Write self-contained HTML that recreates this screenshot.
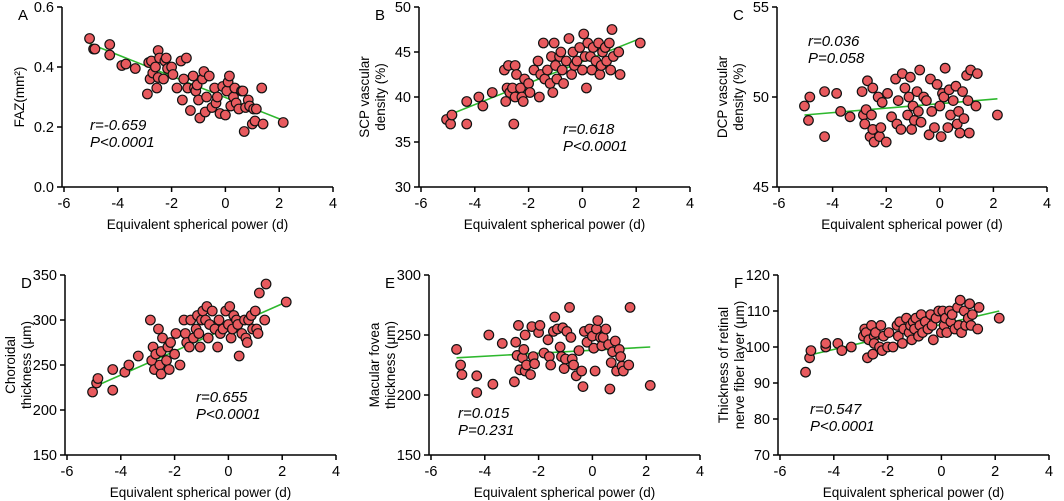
<!DOCTYPE html>
<html><head><meta charset="utf-8"><style>
body{margin:0;background:#fff;}
svg{display:block;font-family:"Liberation Sans",Arial,sans-serif;}
</style></head><body>
<svg id="c" width="1064" height="501"></svg>
<script>
const xs=[-5.05,-4.9,-4.85,-4.3,-4.3,-3.85,-3.7,-3.35,-2.9,-2.85,-2.8,-2.75,-2.7,-2.6,-2.55,-2.5,-2.5,-2.45,-2.3,-2.25,-2.2,-2.15,-2.0,-1.95,-1.8,-1.65,-1.6,-1.55,-1.45,-1.4,-1.3,-1.2,-1.15,-1.1,-1.05,-1.0,-0.95,-0.85,-0.8,-0.75,-0.7,-0.6,-0.5,-0.4,-0.35,-0.3,-0.2,-0.1,0.0,0.05,0.1,0.15,0.2,0.3,0.35,0.4,0.5,0.6,0.65,0.7,0.75,0.85,0.9,1.0,1.05,1.1,1.15,1.35,1.4,2.15];
const yA=[0.495,0.46,0.46,0.475,0.44,0.405,0.41,0.395,0.31,0.415,0.36,0.42,0.38,0.40,0.33,0.455,0.365,0.43,0.36,0.42,0.43,0.395,0.40,0.375,0.33,0.42,0.29,0.36,0.43,0.33,0.255,0.37,0.33,0.32,0.34,0.29,0.23,0.36,0.385,0.25,0.30,0.37,0.265,0.33,0.28,0.30,0.245,0.335,0.24,0.32,0.35,0.37,0.27,0.30,0.33,0.28,0.26,0.32,0.32,0.185,0.265,0.29,0.27,0.21,0.26,0.22,0.26,0.33,0.21,0.215];
const yB=[37.5,37.0,38.0,39.5,37.0,40.0,39.0,40.5,43.0,39.5,41.0,43.5,40.5,41.0,37.0,43.5,40.0,42.5,41.0,40.0,39.5,42.0,41.5,40.5,43.0,44.0,40.0,42.5,46.0,42.0,43.0,41.5,44.5,40.5,46.0,43.5,42.0,44.5,45.0,43.0,41.5,44.0,46.5,42.5,45.0,43.5,44.0,45.5,43.0,47.0,44.5,41.0,46.0,44.5,43.0,45.5,44.0,46.0,42.5,43.5,45.0,45.5,44.0,46.0,43.0,47.5,44.5,45.0,42.5,46.0];
const yC=[49.5,48.7,50.0,47.8,50.3,50.2,49.2,48.9,50.3,49.0,48.5,49.3,50.9,47.8,49.0,48.2,50.5,47.5,50.0,47.8,48.3,49.7,47.5,50.2,48.9,51.0,48.5,49.8,48.2,51.3,50.5,49.0,50.0,51.1,48.2,49.5,48.7,50.3,49.2,51.5,48.6,50.0,49.8,47.9,51.0,49.2,48.3,50.7,49.5,47.8,50.2,50.0,51.6,48.3,50.4,49.0,49.8,50.6,48.5,49.2,48.0,50.3,48.8,51.2,49.8,48.0,51.5,49.5,51.3,49.0];
const yD=[220,230,235,245,222,242,250,260,300,255,270,245,262,290,250,265,240,280,255,270,245,275,262,285,250,300,285,275,270,300,280,290,305,285,270,300,310,300,315,280,295,310,290,270,300,285,290,310,295,315,280,290,305,300,295,260,285,300,280,275,300,305,290,310,290,285,330,300,340,320];
const yE=[238,225,217,216,202,250,209,243,211,244,233,258,221,231,238,250,220,225,217,257,232,226,252,258,235,246,232,225,253,265,255,240,232,256,222,230,253,273,248,230,225,216,237,220,207,253,244,255,249,239,220,255,262,248,241,248,255,242,205,227,236,245,220,238,232,224,220,225,273,208];
const yF=[93,97,99,100,101,101,99,100,103,105,104,97,102,106,98,103,101,104,100,106,99,103,100,104,100,106,103,107,101,105,108,104,106,102,107,105,108,103,106,109,104,107,105,109,106,102,108,110,104,110,106,108,104,110,107,109,105,111,106,113,104,110,106,108,112,106,109,105,111,108];
const xTicks=["-6","-4","-2","0","2","4"];
const ticksA=["0.0","0.2","0.4","0.6"], ticksB=["30","35","40","45","50"], ticksC=["45","50","55"];
const ticksD=["150","200","250","300","350"], ticksE=["150","200","250","300"], ticksF=["70","80","90","100","110","120"];
const fitA=[0.478,0.222], fitB=[37.9,46.5], fitC=[49.0,49.9], fitD=[225,320], fitE=[231,240], fitF=[97.5,110];
const lineX=[-5.05,2.15];
const NS='http://www.w3.org/2000/svg', svg=document.getElementById('c');
function mk(t,a,p){const e=document.createElementNS(NS,t);for(const k in a)e.setAttribute(k,a[k]);(p||svg).appendChild(e);return e;}
const panels=[
 {id:'a',L:'A',ys:yA,ticks:ticksA,fit:fitA,x0:64,x1:333,t:7,b:187,lab:['FAZ(mm²)'],st:['r=-0.659','P<0.0001'],sx:90,sy:130},
 {id:'b',L:'B',ys:yB,ticks:ticksB,fit:fitB,x0:421,x1:690,t:7,b:187,lab:['SCP vascular','density (%)'],st:['r=0.618','P<0.0001'],sx:563,sy:134},
 {id:'c',L:'C',ys:yC,ticks:ticksC,fit:fitC,x0:779,x1:1047,t:7,b:187,lab:['DCP vascular','density (%)'],st:['r=0.036','P=0.058'],sx:808,sy:46},
 {id:'d',L:'D',ys:yD,ticks:ticksD,fit:fitD,x0:67,x1:336,t:275,b:455,lab:['Choroidal','thickness (μm)'],st:['r=0.655','P<0.0001'],sx:196,sy:402},
 {id:'e',L:'E',ys:yE,ticks:ticksE,fit:fitE,x0:431,x1:700,t:275,b:455,lab:['Macular fovea','thickness (μm)'],st:['r=0.015','P=0.231'],sx:458,sy:418},
 {id:'f',L:'F',ys:yF,ticks:ticksF,fit:fitF,x0:780,x1:1049,t:275,b:455,lab:['Thickness of retinal','nerve fiber layer (μm)'],st:['r=0.547','P<0.0001'],sx:810,sy:414}];
panels.forEach(p=>{
 const g=mk('g',{});
 
 
 const ymin=+p.ticks[0], ymax=+p.ticks[p.ticks.length-1];
 const X=v=>p.x0+(v+6)/10*(p.x1-p.x0), Y=v=>p.b-(v-ymin)/(ymax-ymin)*(p.b-p.t);
 const ax=p.x0-2;
 const ya=mk('line',{x1:ax,y1:p.t,x2:ax,y2:p.b,stroke:'#000','stroke-width':1.5},g);
 
 const xa=mk('line',{x1:ax,y1:p.b,x2:p.x1,y2:p.b,stroke:'#000','stroke-width':1.5},g);
 
 p.ticks.forEach(t=>{const y=Y(+t);mk('line',{x1:ax-5,y1:y,x2:ax,y2:y,stroke:'#000','stroke-width':1.5},g);
  const tx=mk('text',{x:ax-8,y:y+5,'font-size':14.5,'text-anchor':'end'},g);tx.textContent=t;
  });
 xTicks.forEach(t=>{const x=X(+t);mk('line',{x1:x,y1:p.b,x2:x,y2:p.b+5,stroke:'#000','stroke-width':1.5},g);
  const tx=mk('text',{x:x,y:p.b+21,'font-size':14.5,'text-anchor':'middle'},g);tx.textContent=t;
  });
 const xl=mk('text',{x:(ax+p.x1)/2,y:p.b+42,'font-size':13.5,'text-anchor':'middle'},g);xl.textContent='Equivalent spherical power (d)';
 
 const cy=(p.t+p.b)/2, n=p.lab.length;
 p.lab.forEach((s,i)=>{const lx=ax-(n==1?38:50)+i*16;const t=mk('text',{x:lx,y:cy,'font-size':13.5,'text-anchor':'middle',transform:`rotate(-90 ${lx} ${cy})`},g);t.textContent=s;
  });
 const pl=mk('text',{x:ax-44,y:p.t+13,'font-size':15},g);pl.textContent=p.L;
 
 const fl=mk('line',{x1:X(lineX[0]),y1:Y(p.fit[0]),x2:X(lineX[1]),y2:Y(p.fit[1]),stroke:'#2eb82e','stroke-width':1.6},g);
 
 xs.forEach((x,i)=>{const c=mk('circle',{cx:X(x),cy:Y(p.ys[i]),r:4.8,fill:'#e85a5e',stroke:'#111','stroke-width':1.2},g);
  });
 p.st.forEach((s,i)=>{const t=mk('text',{x:p.sx,y:p.sy+i*17,'font-size':15,'font-style':'italic'},g);t.textContent=s;
  });
});
</script>
</body></html>
